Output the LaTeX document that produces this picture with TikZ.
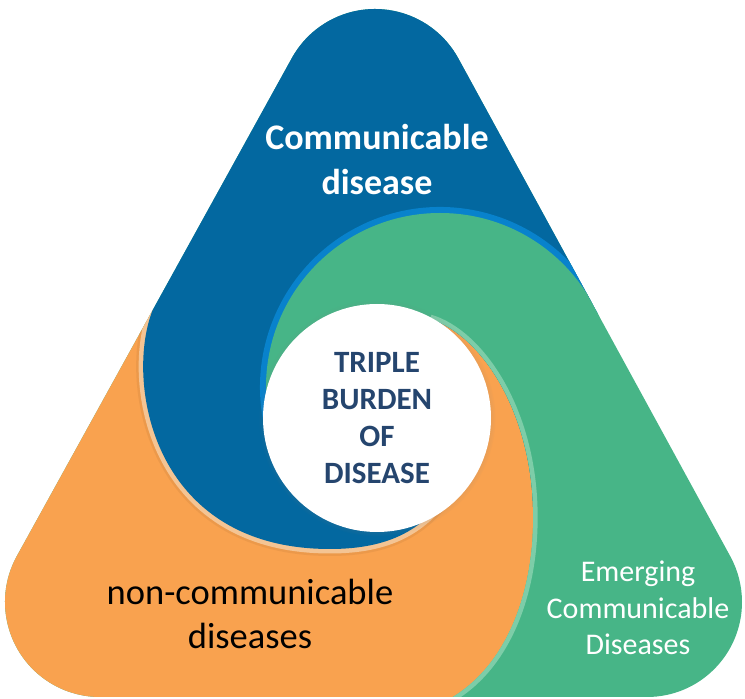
\documentclass[tikz,border=0pt]{standalone}
\usepackage{fontspec}
\setmainfont{Carlito}
\usetikzlibrary{calc,shadows}

\definecolor{cdblue}{HTML}{0368A0}
\definecolor{cdlightblue}{HTML}{0882CC}
\definecolor{ecgreen}{HTML}{47B587}
\definecolor{eclightgreen}{HTML}{7DCDA8}
\definecolor{ncdorange}{HTML}{F9A24F}
\definecolor{ncdpeach}{HTML}{F4C493}
\definecolor{burdennavy}{HTML}{25456E}

\begin{document}
\begin{tikzpicture}[
    x=1pt, y=1pt,
    edge strip/.style={line width=9pt},
    soft shadow/.style={black, opacity=.05, line width=14pt},
    area text/.style={align=center, inner sep=0pt},
    burden circle/.style={circle, fill=white, minimum size=228pt, inner sep=0pt,
        align=center, text=burdennavy, font=\bfseries\fontsize{31}{37}\selectfont,
        circular drop shadow={shadow scale=1.04, shadow xshift=0pt, shadow yshift=0pt, opacity=.4}}
    ]
    \useasboundingbox (0,0) rectangle (745,699);
    \coordinate (cTop)   at (375,595);
    \coordinate (cLeft)  at (100,97);
    \coordinate (cRight) at (647,97);
    \coordinate (cGreen) at (440,312);
    \coordinate (cMid)   at (377,281);
    \coordinate (tBlue)  at (152.7,389);
    \coordinate (tGreen) at (592.7,395.4);
    \coordinate (oTop)   at (430,380);
    \coordinate (oSide)  at (533,192);
    \coordinate (oFoot)  at (420,-12);

    \begin{scope}
    \clip (100,2) -- (647,2) arc[start angle=-90, end angle=28.64, radius=95pt]
        -- ($(cTop)+(28.64:95pt)$) arc[start angle=28.64, end angle=151.09, radius=95pt]
        -- ($(cLeft)+(151.09:95pt)$) arc[start angle=151.09, end angle=270, radius=95pt]
        -- cycle;
    % green underneath everything
    \fill[ecgreen] (0,0) rectangle (745,699);
    % orange
    \fill[ncdorange] (cMid) -- (oTop) .. controls (480,365) and (530,290) .. (oSide)
        .. controls (536,100) and (500,10) .. (oFoot)
        -- (-50,-12) -- (-50,487) -- (tBlue) -- (300,230) -- cycle;
    % blue, light edge on the orange
    \draw[soft shadow] (tBlue) .. controls (125,320) and (150,150) .. (330,150)
        .. controls (390,150) and (425,170) .. (450,209);
    \draw[ncdpeach, edge strip] (tBlue) .. controls (125,320) and (150,150) .. (330,150)
        .. controls (390,150) and (425,170) .. (450,209);
    \fill[cdblue] (cMid) -- (oTop) .. controls (480,365) and (530,290) .. (oSide) -- (tGreen) -- (750,481)
        -- (750,750) -- (-50,750) -- (-50,487) -- (tBlue) -- (300,230) -- cycle;
    \fill[cdblue] (tBlue) .. controls (125,320) and (150,150) .. (330,150)
        .. controls (390,150) and (425,170) .. (450,209) -- (cMid) -- cycle;
    % green band over the blue
    \draw[cdlightblue, line width=12pt] (cGreen) ++(25:174pt) arc[start angle=25, end angle=200, radius=174pt];
    \begin{scope}
        \clip (cGreen) circle[radius=174pt];
        \fill[ecgreen] (cMid) -- (oTop) .. controls (480,365) and (530,290) .. (oSide)
            .. controls (536,100) and (500,10) .. (oFoot)
            -- (850,-12) -- (850,800) -- (-50,800) -- (-50,487) -- (tBlue) -- (300,230) -- cycle;
    \end{scope}
    % light edge of the orange on the green
    \begin{scope}
        \clip (oTop) .. controls (480,365) and (530,290) .. (oSide)
            .. controls (536,100) and (500,10) .. (oFoot)
            -- (850,-12) -- (850,800) -- (430,800) -- cycle;
        \draw[eclightgreen, edge strip] (oTop) .. controls (480,365) and (530,290) .. (oSide)
            .. controls (536,100) and (500,10) .. (oFoot);
    \end{scope}
    \node[burden circle] (burden) at (cMid) {TRIPLE\\BURDEN\\OF\\DISEASE};
    \end{scope}

    \node[area text, text=white, font=\bfseries\fontsize{36}{45}\selectfont] (commlabel) at (377,539) {Communicable\\disease};
    \node[area text, font=\fontsize{36.5}{44}\selectfont] (ncdlabel) at (250,85) {non-communicable\\diseases};
    \node[area text, text=white, font=\fontsize{30}{36.5}\selectfont] (emerginglabel) at (638,91) {Emerging\\Communicable\\Diseases};
\end{tikzpicture}
\end{document}
